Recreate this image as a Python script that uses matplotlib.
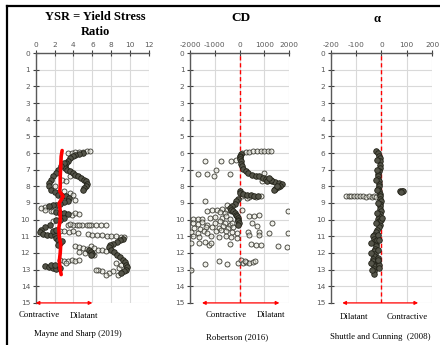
import matplotlib
matplotlib.use('Agg')
import matplotlib.pyplot as plt
from matplotlib.lines import Line2D

plt.rcParams['axes.unicode_minus'] = False

# YSR panel (value, depth) - dense track points
ysr_dark_val = [5.0, 4.6, 4.2, 3.9, 3.6, 3.4, 3.2, 3.1, 3.1, 3.3, 3.6, 3.9, 4.2, 4.5, 4.8, 5.1, 5.3, 5.4, 5.3, 5.1, 5.0,
                3.0, 2.7, 2.4, 2.1, 1.8, 1.6, 1.4, 1.4, 1.6, 2.0, 2.4, 2.8, 3.2, 3.5, 3.4, 3.0, 2.6, 2.2, 1.8, 1.4,
                2.2, 2.6, 3.0, 3.4, 3.0, 2.6, 2.2,
                1.5, 1.0, 0.6, 0.5, 0.8, 1.2, 1.6, 2.0, 1.8, 2.2,
                9.2, 8.9, 8.6, 8.2, 7.9, 7.8, 8.0, 8.3, 8.6, 8.9, 9.2, 9.4, 9.6, 9.7, 9.6, 9.3, 9.0,
                2.2, 2.4, 2.6, 2.4, 2.8,
                5.6, 5.8, 6.0, 5.9,
                1.0, 1.4, 1.8, 2.2, 2.6, 1.6, 2.0]
ysr_dark_depth = [6.0, 6.05, 6.1, 6.2, 6.3, 6.45, 6.6, 6.75, 6.9, 7.0, 7.1, 7.2, 7.3, 7.4, 7.5, 7.6, 7.7, 7.85, 8.0, 8.1, 8.2,
                  6.6, 6.8, 7.0, 7.2, 7.4, 7.6, 7.8, 8.0, 8.2, 8.35, 8.5, 8.55, 8.6, 8.7, 8.85, 8.95, 9.05, 9.1, 9.15, 9.2,
                  9.55, 9.6, 9.6, 9.65, 9.9, 10.0, 10.05,
                  10.3, 10.45, 10.6, 10.75, 10.85, 10.9, 10.95, 10.9, 10.7, 10.6,
                  11.15, 11.25, 11.35, 11.45, 11.55, 11.65, 11.8, 11.95, 12.1, 12.25, 12.4, 12.55, 12.7, 12.85, 13.0, 13.1, 13.2,
                  11.1, 11.25, 11.4, 11.55, 11.3,
                  11.85, 11.95, 12.05, 12.1,
                  12.8, 12.85, 12.9, 12.95, 12.9, 12.75, 12.7]

# YSR panel - scattered open circles
ysr_val = [3.4, 3.8, 4.2, 4.6, 5.0, 5.4, 5.7,
           1.0, 0.6, 2.8, 3.2, 3.6, 2.0, 3.0, 3.6, 4.0, 4.2, 1.6, 1.0, 2.0,
           1.8, 3.8, 4.2, 4.6, 1.8,
           3.4, 3.9, 4.4, 4.9, 5.4, 5.9, 6.4, 6.9, 7.4, 3.6, 4.6, 5.6,
           2.6, 3.0, 3.5, 4.0, 4.5,
           5.5, 6.0, 6.5, 7.0, 7.5, 8.0, 8.5, 9.0, 9.3,
           8.7, 8.5, 8.8, 9.0, 8.2, 7.8, 7.4, 7.0, 6.6, 6.4,
           4.2, 4.6, 5.0, 5.4, 5.8, 6.2, 6.6, 7.0, 7.4, 4.6, 5.2, 5.6, 6.0, 6.2,
           2.6, 3.0, 3.4, 3.8, 4.2, 4.6, 3.2]
ysr_depth = [6.0, 5.98, 5.96, 5.94, 5.92, 5.9, 5.9,
             9.25, 9.3, 7.6, 7.7, 7.4, 8.0, 8.3, 8.4, 8.5, 8.8, 9.5, 9.4, 9.35,
             9.5, 9.7, 9.6, 9.65, 10.1,
             10.3, 10.3, 10.3, 10.3, 10.3, 10.3, 10.3, 10.3, 10.3, 10.25, 10.35, 10.35,
             10.7, 10.7, 10.75, 10.7, 10.8,
             10.85, 10.9, 10.95, 10.95, 11.0, 11.0, 11.0, 11.05, 11.05,
             13.3, 12.6, 12.9, 12.75, 13.1, 13.2, 13.3, 13.1, 13.05, 13.0,
             11.6, 11.65, 11.7, 11.75, 11.6, 11.7, 11.8, 11.85, 11.9, 11.95, 12.0, 11.9, 12.0, 12.1,
             12.45, 12.5, 12.5, 12.45, 12.5, 12.4, 12.6]

red_val = [2.8, 2.7, 2.65, 2.6, 2.6, 2.55, 2.9, 2.5, 2.6, 2.6, 2.45, 2.5, 2.65, 2.6, 2.5, 2.6, 2.7]
red_depth = [5.85, 6.2, 6.8, 7.4, 8.0, 8.3, 8.6, 9.0, 9.5, 10.0, 10.5, 11.0, 11.5, 12.0, 12.5, 13.0, 13.3]

# CD panel - dense track points
cd_dark_val = [60, 20, 10, 20, 40, 60, 100, 150, 250, 350, 500, 650, 800, 950, 1050, 1150, 1300, 1450, 1600, 1700,
               1650, 1550, 1450, 1400, 1100, 1250, 1500, 1200,
               20, 30, 150, 300, 450, 600, 750, -50, -150, -200, -300, -400, -350, -250, -200, -150, -100,
               -80, -60, -50, -40, -60]
cd_dark_depth = [6.05, 6.15, 6.25, 6.35, 6.5, 6.65, 6.8, 6.95, 7.1, 7.2, 7.3, 7.35, 7.4, 7.5, 7.55, 7.6, 7.7, 7.75, 7.8, 7.85,
                 7.95, 8.05, 8.15, 8.2, 7.7, 7.6, 8.0, 7.5,
                 8.3, 8.4, 8.45, 8.5, 8.5, 8.55, 8.55, 8.75, 8.9, 9.05, 9.2, 9.3, 9.4, 9.5, 9.6, 9.7, 9.8,
                 9.9, 10.0, 10.1, 10.2, 10.3]

# CD panel - scattered open circles
cd_val = [100, 250, 400, 550, 700, 850, 1000, 1150, 1250, 1000, 900, 850, 100,
          -1400, -770, -330, -150, -950, -1700, -1300, -1050, -380,
          400, 650, 300, -1400, -500,
          -1100, -900, -700, -500, -1300, -800, -600, -350, -1900, -1700, -1500, -1200, -1000, -700, -550, -400,
          -1900, -1700, -1500, -1300, -1000, -800, -600, -400, -300, 100, 1950, 400, 600, 800,
          -1850, -1600, -1350, -1100, -850, -650, -450, -250,
          -1950, -1700, -1450, -1300, -950, -750, -550, -300, -100, 350, 800, 1200, 1950,
          -1900, -1650, -1150, -850, -550, -350, -100, 400, 800,
          -1950, -1650, -1400, -1250, -1150, -400, 450, 650, 850, 1550, 1900, 1300, 500, 700,
          -1400, -850, -500, -70, 60, 130, 270, 400, 540, 610, 200,
          -1980]
cd_depth = [6.0, 5.95, 5.92, 5.9, 5.9, 5.9, 5.88, 5.88, 5.9, 7.2, 7.65, 8.6, 8.6,
            6.5, 6.45, 6.45, 6.4, 7.0, 7.25, 7.25, 7.4, 7.25,
            8.65, 8.65, 8.7, 8.9, 9.15,
            9.4, 9.45, 9.35, 9.4, 9.5, 9.55, 9.6, 9.5, 9.95, 9.95, 9.95, 9.9, 9.85, 9.9, 9.8, 9.95,
            10.2, 10.25, 10.15, 10.3, 10.2, 10.1, 10.2, 10.3, 10.2, 9.45, 9.5, 9.8, 9.8, 9.75,
            10.5, 10.55, 10.45, 10.45, 10.5, 10.4, 10.5, 10.45,
            10.75, 10.8, 10.7, 10.8, 10.7, 10.65, 10.7, 10.75, 10.8, 10.75, 10.75, 10.8, 10.8,
            11.0, 11.05, 11.0, 11.05, 11.0, 11.05, 11.1, 10.95, 10.9,
            11.4, 11.4, 11.35, 11.5, 11.4, 11.45, 11.45, 11.5, 11.5, 11.6, 11.65, 10.2, 10.2, 10.4,
            12.65, 12.5, 12.65, 12.6, 12.45, 12.6, 12.55, 12.6, 12.55, 12.5, 12.5,
            13.0]

# alpha panel - dense track points
al_dark_val = [-20, -12, -8, -5, -4, -4, -6, -8, -12, -14, -12, -10, -8, -10, -12, -8, -4, -6, -5, -3, -5, -6, -4, -3,
               -5, -8, -12, -10, -8, -6, -10, -16, -22, -28, -32, -28, -24, -20, -22, -26, -28, -26, -28, -32, -34, -32,
               -30, -28, -30, -30, -12, -10, -8, -14, -18, -14, -2, 2,
               -18, -16, -20, -18, -14, -16, -20, -8, -12, -14, -40, -42, -38, -40,
               72, 80, 86, 78]
al_dark_depth = [5.9, 6.0, 6.15, 6.3, 6.5, 6.7, 6.9, 7.1, 7.25, 7.4, 7.55, 7.7, 7.85, 8.0, 8.15, 8.3, 8.45, 8.6, 8.75, 8.9,
                 9.05, 9.2, 9.35, 9.5, 9.65, 9.8, 9.95, 10.1, 10.2, 10.3, 10.45, 10.6, 10.75, 10.9, 11.0, 11.15, 11.3, 11.45,
                 11.6, 11.75, 11.9, 12.05, 12.2, 12.35, 12.5, 12.65, 12.8, 12.95, 13.1, 13.25, 12.5, 12.7, 12.9, 12.3, 11.2,
                 10.9, 10.0, 9.9,
                 6.4, 7.0, 7.6, 8.2, 9.0, 9.6, 10.2, 11.2, 11.8, 12.4, 12.0, 12.6, 13.0, 11.4,
                 8.3, 8.25, 8.3, 8.35]

# alpha panel - scattered open circles
al_val = [-140, -130, -120, -108, -96, -84, -72, -60, -48, -38, -28, -20]
al_depth = [8.6, 8.55, 8.6, 8.55, 8.6, 8.55, 8.6, 8.65, 8.6, 8.65, 8.6, 8.65]

depth_ticks = list(range(0, 16))

fig = plt.figure(figsize=(4.4, 3.45), dpi=100)

serif = 'Liberation Serif'
grid_c = '#d9d9d9'
axis_c = '#595959'


def setup(ax, xlim, xticks):
    ax.set_xlim(xlim)
    ax.set_ylim(15, 0)
    ax.set_xticks(xticks)
    ax.set_yticks(depth_ticks)
    ax.xaxis.tick_top()
    ax.grid(True, color=grid_c, lw=0.8)
    ax.set_axisbelow(True)
    for s in ['right', 'bottom']:
        ax.spines[s].set_visible(False)
    for s in ['left', 'top']:
        ax.spines[s].set_color(axis_c)
        ax.spines[s].set_linewidth(1.0)
    ax.tick_params(labelsize=5.3, labelcolor=axis_c, color='#404040', direction='inout',
                   length=4, width=0.8, pad=2)


def scat(ax, x, y, dx, dy):
    ax.scatter(x, y, s=13, facecolor=(0.9, 0.9, 0.86, 0.5), edgecolor='#3a3a32', linewidth=0.6, zorder=3)
    ax.scatter(dx, dy, s=16, facecolor='#55554a', edgecolor='#222218', linewidth=0.6, zorder=3)


def arrow(ax, x0, x1):
    ax.annotate('', xy=(x1, 15), xytext=(x0, 15), annotation_clip=False,
                arrowprops=dict(arrowstyle='<|-|>', color='red', lw=0.9, mutation_scale=5,
                                shrinkA=0, shrinkB=0), zorder=5)


ax1 = fig.add_axes([0.081, 0.122, 0.258, 0.724])
setup(ax1, (0, 12), [0, 2, 4, 6, 8, 10, 12])
scat(ax1, ysr_val, ysr_depth, ysr_dark_val, ysr_dark_depth)
ax1.plot(red_val, red_depth, color='red', lw=2.6, zorder=4, solid_capstyle='round')
arrow(ax1, 0, 6.0)

ax2 = fig.add_axes([0.432, 0.122, 0.225, 0.724])
setup(ax2, (-2000, 2000), [-2000, -1000, 0, 1000, 2000])
ax2.axvline(0, color='red', ls=(0, (3, 2)), lw=1.0, zorder=2)
scat(ax2, cd_val, cd_depth, cd_dark_val, cd_dark_depth)
arrow(ax2, -1520, 1610)

ax3 = fig.add_axes([0.752, 0.122, 0.230, 0.724])
setup(ax3, (-200, 200), [-200, -100, 0, 100, 200])
ax3.axvline(0, color='red', ls=(0, (3, 2)), lw=1.0, zorder=2)
scat(ax3, al_val, al_depth, al_dark_val, al_dark_depth)
arrow(ax3, -155, 145)

# titles
fig.text(95 / 440, 1 - 17 / 345, 'YSR = Yield Stress', ha='center', va='center',
         fontsize=9, fontweight='bold', family=serif)
fig.text(95 / 440, 1 - 32 / 345, 'Ratio', ha='center', va='center',
         fontsize=9, fontweight='bold', family=serif)
fig.text(241 / 440, 1 - 18 / 345, 'CD', ha='center', va='center',
         fontsize=9.5, fontweight='bold', family=serif)
fig.text(377 / 440, 1 - 19 / 345, 'α', ha='center', va='center',
         fontsize=9, fontweight='bold', family=serif)

# bottom labels
lab = dict(fontsize=6.3, family=serif, va='center')
fig.text(19 / 440, 1 - 315 / 345, 'Contractive', ha='left', **lab)
fig.text(70 / 440, 1 - 316 / 345, 'Dilatant', ha='left', **lab)
fig.text(78 / 440, 1 - 334 / 345, 'Mayne and Sharp (2019)', ha='center', **lab)
fig.text(206 / 440, 1 - 315 / 345, 'Contractive', ha='left', **lab)
fig.text(257 / 440, 1 - 315 / 345, 'Dilatant', ha='left', **lab)
fig.text(237 / 440, 1 - 337 / 345, 'Robertson (2016)', ha='center', **lab)
fig.text(340 / 440, 1 - 317 / 345, 'Dilatant', ha='left', **lab)
fig.text(387 / 440, 1 - 317 / 345, 'Contractive', ha='left', **lab)
fig.text(380 / 440, 1 - 337 / 345, 'Shuttle and Cunning  (2008)', ha='center', **lab)

# outer frame (left and top)
fig.add_artist(Line2D([7 / 440, 7 / 440], [0, 1 - 6 / 345], color='black', lw=1.6))
fig.add_artist(Line2D([7 / 440, 1], [1 - 6 / 345, 1 - 6 / 345], color='black', lw=1.6))

fig.savefig('out.png', dpi=100)
